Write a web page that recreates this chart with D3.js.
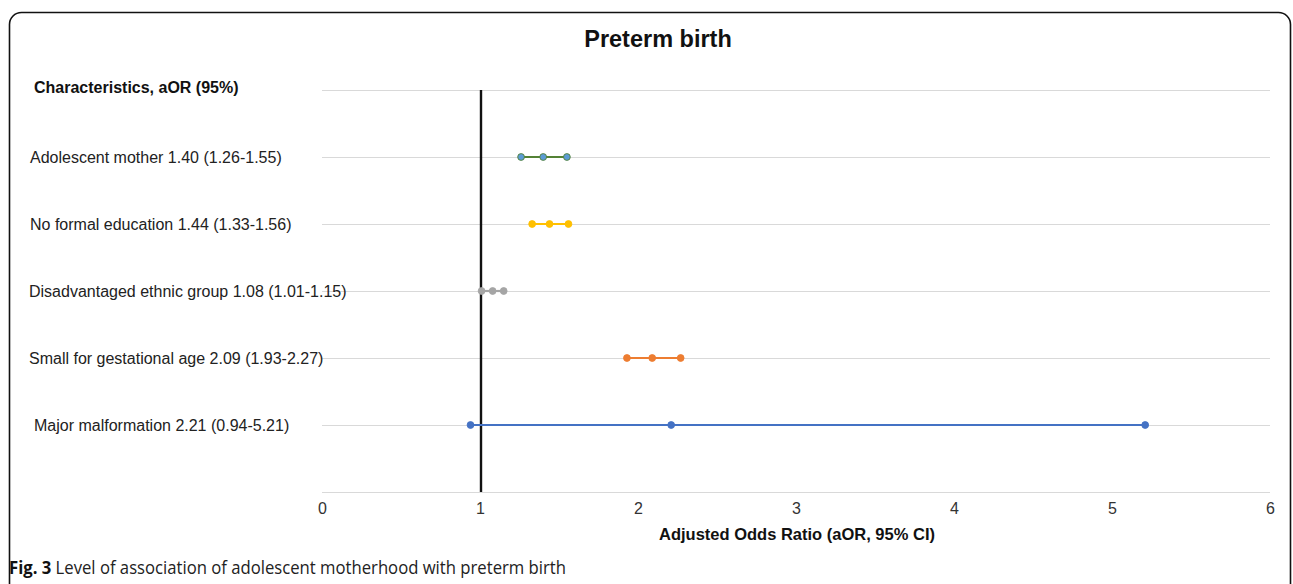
<!DOCTYPE html>
<html>
<head>
<meta charset="utf-8">
<script src="https://cdn.jsdelivr.net/npm/d3@7"></script>
<style>
  html, body { margin: 0; padding: 0; background: #fff; }
  svg { display: block; }
</style>
</head>
<body>
<svg id="chart" width="1293" height="584"></svg>
<script>
// Forest-plot data: adjusted odds ratios with 95% confidence intervals
const categories = [
  "Adolescent mother",
  "No formal education",
  "Disadvantaged ethnic group",
  "Small for gestational age",
  "Major malformation"
];
const aor   = [1.40, 1.44, 1.08, 2.09, 2.21];
const lower = [1.26, 1.33, 1.01, 1.93, 0.94];
const upper = [1.55, 1.56, 1.15, 2.27, 5.21];
const rowPos = [5, 4, 3, 2, 1];            // vertical slot of each row
const xTicks = [0, 1, 2, 3, 4, 5, 6];
const yGrid  = [0, 1, 2, 3, 4, 5, 6];
const lineColors   = ["#548235", "#FFC000", "#A5A5A5", "#ED7D31", "#4472C4"];
const markerColors = ["#5B9BD5", "#FFC000", "#A5A5A5", "#ED7D31", "#4472C4"];
const labelX = [30, 30, 29, 29, 34];

const svg = d3.select("#chart");
const font = "'Liberation Sans', Arial, sans-serif";

// Outer rounded frame
svg.append("rect")
  .attr("x", 9.5).attr("y", 12.5)
  .attr("width", 1281).attr("height", 640)
  .attr("rx", 12).attr("ry", 12)
  .attr("fill", "none").attr("stroke", "#111").attr("stroke-width", 1.6);

const x = d3.scaleLinear().domain([0, 6]).range([322, 1270]);
const y = d3.scaleLinear().domain([0, 6]).range([492, 90]);

// Horizontal gridlines
svg.append("g").selectAll("line").data(yGrid).join("line")
  .attr("x1", x(0)).attr("x2", x(6))
  .attr("y1", d => y(d) + 0.5).attr("y2", d => y(d) + 0.5)
  .attr("stroke", "#d9d9d9").attr("stroke-width", 1.2);

// X axis tick labels
const xAxis = d3.axisBottom(x).tickValues(xTicks).tickSize(0).tickPadding(11)
  .tickFormat(d3.format("d"));
const gx = svg.append("g").attr("transform", `translate(0,${y(0)})`).call(xAxis);
gx.select(".domain").remove();
gx.selectAll("text").attr("font-family", font).attr("font-size", 16).attr("fill", "#333");

// Reference line at OR = 1
svg.append("line")
  .attr("x1", x(1) + 1).attr("x2", x(1) + 1)
  .attr("y1", y(6)).attr("y2", y(0))
  .attr("stroke", "#111").attr("stroke-width", 2.4);

// Confidence-interval segments and point markers
const rows = categories.map((c, i) => ({
  c, i, lo: lower[i], est: aor[i], hi: upper[i], pos: rowPos[i]
}));
const g = svg.append("g");
g.selectAll("line.ci").data(rows).join("line")
  .attr("class", "ci")
  .attr("x1", d => x(d.lo)).attr("x2", d => x(d.hi))
  .attr("y1", d => y(d.pos)).attr("y2", d => y(d.pos))
  .attr("stroke", d => lineColors[d.i]).attr("stroke-width", 2.2);
rows.forEach(d => {
  g.selectAll(null).data([d.lo, d.est, d.hi]).join("circle")
    .attr("cx", v => x(v)).attr("cy", y(d.pos)).attr("r", 3.4)
    .attr("fill", markerColors[d.i])
    .attr("stroke", lineColors[d.i]).attr("stroke-width", 0.9);
});

// Row labels
svg.append("g").selectAll("text").data(rows).join("text")
  .attr("x", d => labelX[d.i]).attr("y", d => y(d.pos) + 6)
  .attr("font-family", font).attr("font-size", 16).attr("fill", "#222")
  .text(d => `${d.c} ${d.est.toFixed(2)} (${d.lo.toFixed(2)}-${d.hi.toFixed(2)})`);

// Column header
svg.append("text")
  .attr("x", 34).attr("y", 93)
  .attr("font-family", font).attr("font-size", 16).attr("font-weight", "bold").attr("fill", "#111")
  .text("Characteristics, aOR (95%)");

// Title
svg.append("text")
  .attr("x", 658).attr("y", 47).attr("text-anchor", "middle")
  .attr("font-family", font).attr("font-size", 23.5).attr("font-weight", "bold").attr("fill", "#111")
  .text("Preterm birth");

// X axis title
svg.append("text")
  .attr("x", (x(0) + x(6)) / 2 + 1).attr("y", 540).attr("text-anchor", "middle")
  .attr("font-family", font).attr("font-size", 16.5).attr("font-weight", "bold").attr("fill", "#111")
  .text("Adjusted Odds Ratio (aOR, 95% CI)");

// Figure caption
const cap = svg.append("text")
  .attr("x", 9).attr("y", 574)
  .attr("font-family", "'Open Sans', 'Noto Sans', sans-serif").attr("font-size", 17.5).attr("fill", "#222")
  .attr("textLength", 557).attr("lengthAdjust", "spacingAndGlyphs");
cap.append("tspan").attr("font-weight", "bold").attr("fill", "#111").text("Fig. 3");
cap.append("tspan").text(" Level of association of adolescent motherhood with preterm birth");
</script>
</body>
</html>
